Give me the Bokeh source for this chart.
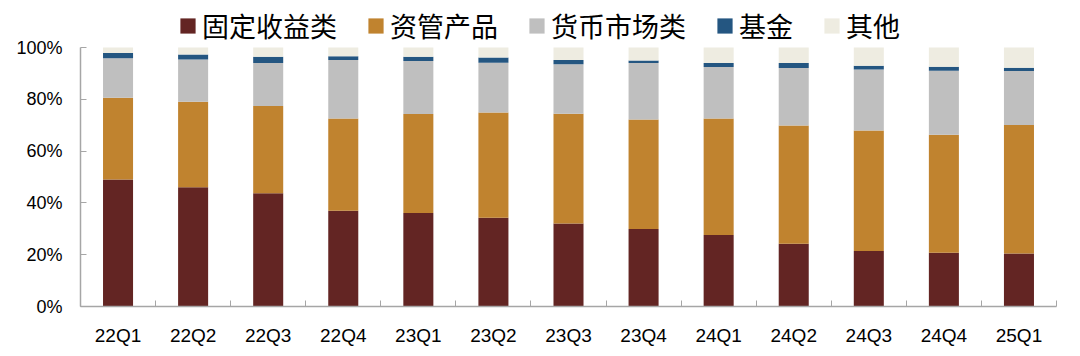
from bokeh.plotting import figure
from bokeh.models import ColumnDataSource, Range1d, FixedTicker, PrintfTickFormatter, Legend
from bokeh.embed import file_html
from bokeh.resources import INLINE

categories = ["22Q1", "22Q2", "22Q3", "22Q4", "23Q1", "23Q2", "23Q3",
              "23Q4", "24Q1", "24Q2", "24Q3", "24Q4", "25Q1"]
fixed_income = [49.0, 46.0, 43.7, 37.0, 36.1, 34.3, 32.0, 29.9, 27.6, 24.2, 21.4, 20.8, 20.5]
asset_mgmt = [31.6, 33.1, 33.7, 35.6, 38.2, 40.6, 42.4, 42.3, 45.0, 45.7, 46.6, 45.5, 49.6]
money_market = [15.3, 16.3, 16.6, 22.6, 20.5, 19.2, 19.1, 21.8, 19.9, 22.2, 23.5, 24.7, 20.8]
funds = [2.0, 1.9, 2.4, 1.4, 1.6, 2.0, 1.7, 1.0, 1.5, 1.9, 1.5, 1.6, 1.3]
others = [2.1, 2.7, 3.6, 3.4, 3.6, 3.9, 4.8, 5.0, 6.0, 6.0, 7.0, 7.4, 7.8]

series_names = ["固定收益类", "资管产品", "货币市场类", "基金", "其他"]
series_keys = ["fi", "am", "mm", "fund", "other"]
colors = ["#632523", "#C0832F", "#BFBFBF", "#245681", "#EEECE1"]

src = ColumnDataSource(dict(
    x=list(range(len(categories))),
    fi=fixed_income, am=asset_mgmt, mm=money_market, fund=funds, other=others,
))

p = figure(width=1080, height=356, output_backend="svg", toolbar_location=None,
           x_range=Range1d(-0.5, len(categories) - 0.5), y_range=Range1d(0, 118.15),
           min_border_left=80, min_border_right=24, min_border_top=0, min_border_bottom=50)
p.outline_line_color = None
p.xgrid.visible = False
p.ygrid.visible = False

rs = p.vbar_stack(series_keys, x="x", width=0.4, color=colors, line_color=None, source=src)

legend = Legend(items=[(n, [r]) for n, r in zip(series_names, rs)],
                orientation="horizontal", location=(98, 261),
                padding=0, margin=0, spacing=29, label_standoff=5,
                glyph_width=19, glyph_height=19,
                border_line_color=None, background_fill_alpha=0,
                label_text_font="Noto Sans CJK SC", label_text_font_size="27px",
                label_text_color="#000000")
p.add_layout(legend, "center")

axis_color = "#A6A6A6"
ya = p.yaxis[0]
ya.ticker = FixedTicker(ticks=[0, 20, 40, 60, 80, 100])
ya.formatter = PrintfTickFormatter(format="%d%%")
ya.bounds = (0, 100)
ya.axis_line_color = axis_color
ya.axis_line_width = 1.5
ya.major_tick_line_color = axis_color
ya.major_tick_in = 6
ya.major_tick_out = 0
ya.minor_tick_line_color = None
ya.major_label_standoff = 18
ya.major_label_text_font = "Liberation Sans"
ya.major_label_text_font_size = "18px"
ya.major_label_text_color = "#000000"

xa = p.xaxis[0]
xa.ticker = FixedTicker(ticks=list(range(len(categories))),
                        minor_ticks=[i - 0.5 for i in range(len(categories) + 1)])
xa.major_label_overrides = {i: c for i, c in enumerate(categories)}
xa.axis_line_color = axis_color
xa.axis_line_width = 1.5
xa.major_tick_line_color = None
xa.minor_tick_line_color = axis_color
xa.minor_tick_in = 6
xa.minor_tick_out = 0
xa.major_label_standoff = 12
xa.major_label_text_font = "Liberation Sans"
xa.major_label_text_font_size = "19px"
xa.major_label_text_color = "#000000"

open("out.html", "w").write(file_html(p, INLINE))
